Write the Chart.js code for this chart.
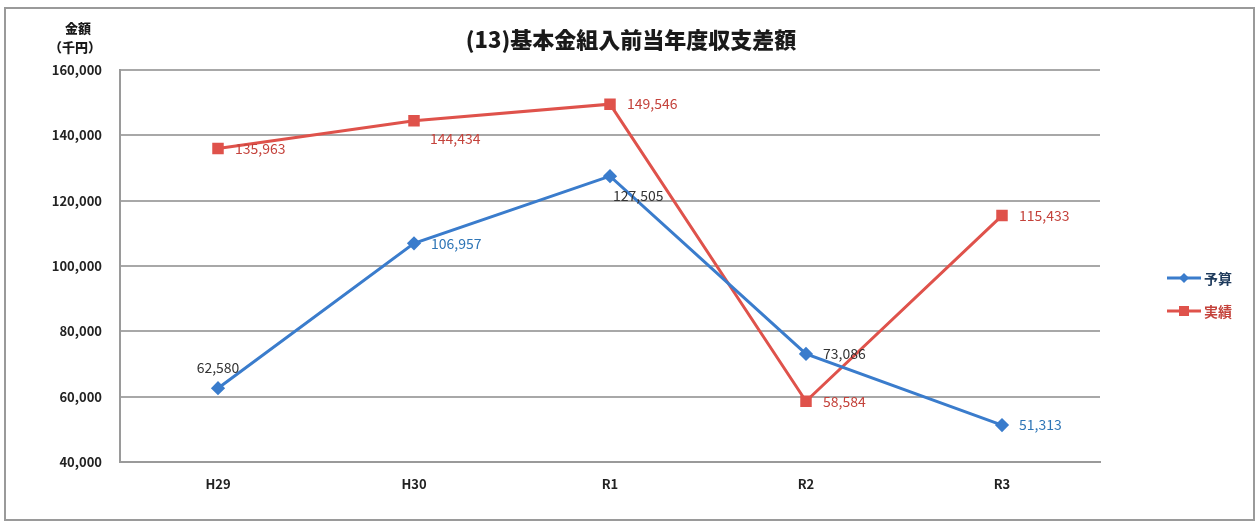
<!DOCTYPE html>
<html>
<head>
<meta charset="utf-8">
<script src="https://cdn.jsdelivr.net/npm/chart.js@4/dist/chart.umd.min.js"></script>
<style>
  html, body { margin: 0; padding: 0; background: #fff; }
  #wrap { width: 1260px; height: 524px; position: relative; }
</style>
</head>
<body>
<div id="wrap"><canvas id="myChart" width="1260" height="524"></canvas></div>
<script>
// chart data
const categories = ["H29", "H30", "R1", "R2", "R3"];
const budgetValues = [62580, 106957, 127505, 73086, 51313];   // 予算
const actualValues = [135963, 144434, 149546, 58584, 115433]; // 実績
const seriesNames = ["予算", "実績"];
const yTicks = [40000, 60000, 80000, 100000, 120000, 140000, 160000];

const FONT = '"Noto Sans CJK JP", "Noto Sans", sans-serif';
const BLUE = "#3a7ccc";
const RED = "#df524b";

// where each value label sits relative to its point, and its colour
const labelSpots = [
  [{ pos: "above", color: "#333" }, { pos: "right", color: "#2e75b6" }, { pos: "below", color: "#333" },
   { pos: "right", color: "#333" }, { pos: "right", color: "#2e75b6" }],
  [{ pos: "right", color: "#c4423b" }, { pos: "belowRight", color: "#c4423b" }, { pos: "right", color: "#c4423b" },
   { pos: "right", color: "#c4423b" }, { pos: "right", color: "#c4423b" }]
];

const fmt = v => v.toLocaleString("en-US");

// draws title, axis caption, value labels, legend and frame
const extrasPlugin = {
  id: "extras",
  afterDraw(chart) {
    const ctx = chart.ctx;
    ctx.save();

    // outer frame
    ctx.strokeStyle = "#9a9a9a";
    ctx.lineWidth = 2;
    ctx.strokeRect(5, 8, 1249, 512);

    // title
    ctx.fillStyle = "#1a1a1a";
    ctx.font = "900 22px " + FONT;
    ctx.textAlign = "center";
    ctx.textBaseline = "middle";
    ctx.fillText("(13)基本金組入前当年度収支差額", 631, 40);

    // y axis caption
    ctx.font = "900 13px " + FONT;
    ctx.fillText("金額", 78, 28);
    ctx.fillText("（千円）", 75, 47);

    // value labels
    ctx.font = "14px " + FONT;
    chart.data.datasets.forEach((ds, di) => {
      const meta = chart.getDatasetMeta(di);
      meta.data.forEach((pt, i) => {
        const spot = labelSpots[di][i];
        ctx.fillStyle = spot.color;
        let x = pt.x, y = pt.y;
        if (spot.pos === "right") { ctx.textAlign = "left"; x += 17; }
        else if (spot.pos === "above") { ctx.textAlign = "center"; y -= 21; }
        else if (spot.pos === "below") { ctx.textAlign = "left"; x += 3; y += 20; }
        else if (spot.pos === "belowRight") { ctx.textAlign = "left"; x += 16; y += 18; }
        ctx.fillText(fmt(ds.data[i]), x, y);
      });
    });

    // legend
    const legendY = [278, 311];
    chart.data.datasets.forEach((ds, di) => {
      const y = legendY[di];
      ctx.strokeStyle = ds.borderColor;
      ctx.lineWidth = 3;
      ctx.beginPath();
      ctx.moveTo(1167, y);
      ctx.lineTo(1201, y);
      ctx.stroke();
      ctx.fillStyle = ds.borderColor;
      if (di === 0) {
        ctx.beginPath();
        ctx.moveTo(1184, y - 5);
        ctx.lineTo(1189, y);
        ctx.lineTo(1184, y + 5);
        ctx.lineTo(1179, y);
        ctx.closePath();
        ctx.fill();
      } else {
        ctx.fillRect(1179, y - 5, 10, 10);
      }
      ctx.fillStyle = di === 0 ? "#1f3b5c" : "#c4423b";
      ctx.font = "bold 14px " + FONT;
      ctx.textAlign = "left";
      ctx.fillText(ds.label, 1204, y + 1);
    });

    ctx.restore();
  }
};

const ctx = document.getElementById("myChart").getContext("2d");
new Chart(ctx, {
  type: "line",
  data: {
    labels: categories,
    datasets: [
      {
        label: seriesNames[0],
        data: budgetValues,
        borderColor: BLUE,
        backgroundColor: BLUE,
        borderWidth: 3,
        pointStyle: "rectRot",
        pointRadius: 5,
        pointHoverRadius: 5,
        tension: 0,
        fill: false
      },
      {
        label: seriesNames[1],
        data: actualValues,
        borderColor: RED,
        backgroundColor: RED,
        borderWidth: 3,
        pointStyle: "rect",
        pointRadius: 6,
        pointHoverRadius: 6,
        tension: 0,
        fill: false
      }
    ]
  },
  options: {
    responsive: false,
    animation: false,
    layout: { padding: { top: 70, right: 160, bottom: 22, left: 0 } },
    plugins: {
      legend: { display: false },
      title: { display: false },
      tooltip: { enabled: false }
    },
    scales: {
      x: {
        offset: true,
        grid: { display: false, drawTicks: false },
        border: { display: true, color: "#9a9a9a", width: 2 },
        ticks: {
          color: "#222",
          padding: 14,
          font: { family: FONT, size: 13, weight: "bold" }
        },
        afterFit(scale) { scale.height = 40; }
      },
      y: {
        min: 40000,
        max: 160000,
        afterBuildTicks(scale) { scale.ticks = yTicks.map(v => ({ value: v })); },
        grid: { color: "#a8a8a8", lineWidth: 2, drawTicks: false },
        border: { display: true, color: "#9a9a9a", width: 2 },
        ticks: {
          color: "#222",
          padding: 18,
          font: { family: FONT, size: 13, weight: "bold" },
          callback: v => fmt(v)
        },
        afterFit(scale) { scale.width = 120; }
      }
    }
  },
  plugins: [extrasPlugin]
});
</script>
</body>
</html>
